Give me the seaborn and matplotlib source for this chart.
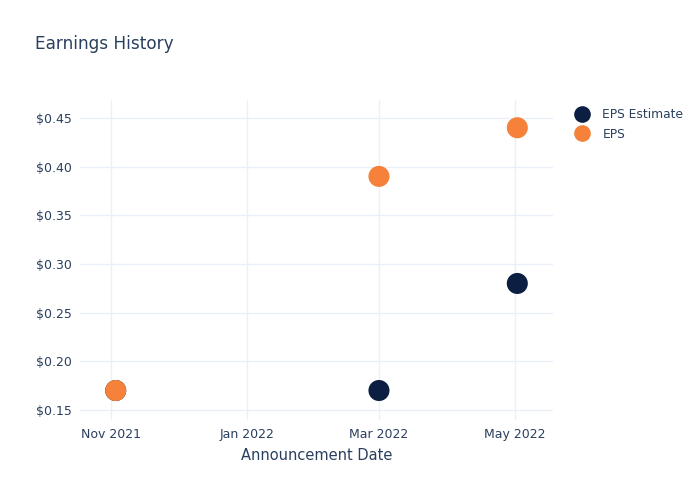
import matplotlib
matplotlib.use("Agg")
import matplotlib.pyplot as plt
import matplotlib.dates as mdates
from matplotlib.ticker import FuncFormatter
from matplotlib.lines import Line2D
import seaborn as sns
import pandas as pd

dates = ["2021-11-03", "2022-03-01", "2022-05-02"]
eps_estimate = [0.17, 0.17, 0.28]
eps_actual = [0.17, 0.39, 0.44]
series_names = ["EPS Estimate", "EPS"]
colors = ["#0c1f42", "#f5813a"]

df = pd.DataFrame({
    "date": pd.to_datetime(dates * 2),
    "value": eps_estimate + eps_actual,
    "series": [series_names[0]] * 3 + [series_names[1]] * 3,
})

sns.set_style("white")
plt.rcParams['font.family'] = ['DejaVu Sans']
text_color = "#2a3f5f"

fig = plt.figure(figsize=(7, 5), dpi=100)
ax = fig.add_axes([80/700, 80/500, 473/700, 320/500])

sns.scatterplot(data=df, x="date", y="value", hue="series", palette=dict(zip(series_names, colors)),
                s=230, linewidth=0, ax=ax, legend=False, zorder=3)

ax.set_xlim(pd.Timestamp("2021-10-18"), pd.Timestamp("2022-05-18"))
ax.set_ylim(0.1397, 0.4685)
ax.set_yticks([0.15, 0.20, 0.25, 0.30, 0.35, 0.40, 0.45])
ax.yaxis.set_major_formatter(FuncFormatter(lambda v, p: f"${v:.2f}"))
ax.set_xticks(pd.to_datetime(["2021-11-01", "2022-01-01", "2022-03-01", "2022-05-01"]))
ax.xaxis.set_major_formatter(mdates.DateFormatter("%b %Y"))

ax.grid(True, color="#ebf0f8", linewidth=1)
for sp in ax.spines.values():
    sp.set_visible(False)
ax.tick_params(axis="both", length=0, labelsize=9, colors=text_color, pad=6)
ax.set_xlabel("Announcement Date", fontsize=10.5, color=text_color, labelpad=5)
ax.set_ylabel("")

fig.text(35/700, 1 - 44/500, "Earnings History", fontsize=12.2, color=text_color, va="center", ha="left")

handles = [Line2D([0], [0], marker="o", linestyle="", markersize=12, markerfacecolor=c, markeredgewidth=0)
           for c in colors]
fig.legend(handles, series_names, loc="upper left", bbox_to_anchor=(575/700, 1 - 108/500), frameon=False,
           fontsize=8.8, labelcolor=text_color, handletextpad=1.05, labelspacing=0.55, handlelength=1.2,
           borderaxespad=0, borderpad=0)

fig.savefig("out.png", dpi=100)
